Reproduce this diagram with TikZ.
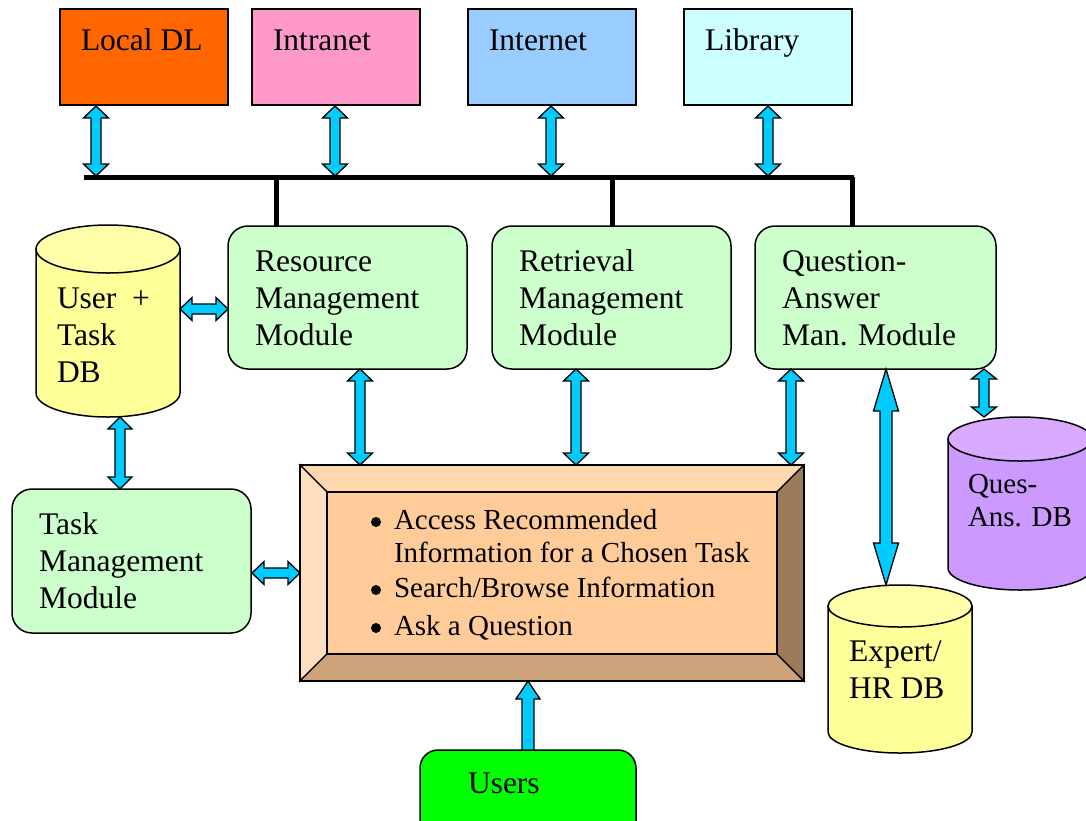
\documentclass[tikz,border=0pt]{standalone}
\usepackage{fontspec}
\setmainfont{Liberation Serif}
\usetikzlibrary{calc}
\definecolor{arrowblue}{HTML}{00CCFF}
\definecolor{cLocal}{HTML}{FF6600}
\definecolor{cIntra}{HTML}{FF99CC}
\definecolor{cInter}{HTML}{99CCFF}
\definecolor{cLib}{HTML}{CCFFFF}
\definecolor{modgreen}{HTML}{CCFFCC}
\definecolor{dbyellow}{HTML}{FFFF99}
\definecolor{dbyellowtop}{HTML}{FFFFAA}
\definecolor{dbpurple}{HTML}{CC99FF}
\definecolor{dbpurpletop}{HTML}{D9AAFF}
\definecolor{uiin}{HTML}{FFCC99}
\definecolor{uitop}{HTML}{FFD7AE}
\definecolor{uileft}{HTML}{FFDEC0}
\definecolor{uibot}{HTML}{CCA37A}
\definecolor{uiright}{HTML}{9C7A5A}
\definecolor{usersgreen}{HTML}{00FF00}
\tikzset{
  box/.style={draw=black, line width=1.5pt, anchor=north west, inner sep=0pt, outer sep=0pt},
  modbox/.style={box, fill=modgreen, rounded corners=20pt},
  lbl/.style={anchor=base west, inner sep=0pt, outer sep=0pt, font=\fontsize{31.5}{37}\selectfont, align=left},
  lblsmall/.style={lbl, font=\fontsize{29}{33}\selectfont},
  bulletdot/.style={circle, fill=black, inner sep=0pt, minimum size=10pt},
  fat/.style={draw=black, fill=arrowblue, line width=1.3pt, line join=miter},
  bus/.style={draw=black, line width=5pt},
  cylsty/.style={draw=black, line width=1.5pt},
}
% double fat arrow: A, B, shaft half width, head half width, head length
\newcommand{\dblarr}[5]{%
  \draw[fat] (#1) -- ($(#1)!#5!(#2)!#4!90:(#2)$) -- ($(#1)!#5!(#2)!#3!90:(#2)$)
   -- ($(#2)!#5!(#1)!#3!-90:(#1)$) -- ($(#2)!#5!(#1)!#4!-90:(#1)$) -- (#2)
   -- ($(#2)!#5!(#1)!#4!90:(#1)$) -- ($(#2)!#5!(#1)!#3!90:(#1)$)
   -- ($(#1)!#5!(#2)!#3!-90:(#2)$) -- ($(#1)!#5!(#2)!#4!-90:(#2)$) -- cycle;}
% single fat arrow: tail A, tip B
\newcommand{\sglarr}[5]{%
  \draw[fat] ($(#1)!#3!90:(#2)$) -- ($(#2)!#5!(#1)!#3!-90:(#1)$) -- ($(#2)!#5!(#1)!#4!-90:(#1)$)
   -- (#2) -- ($(#2)!#5!(#1)!#4!90:(#1)$) -- ($(#2)!#5!(#1)!#3!90:(#1)$)
   -- ($(#1)!#3!-90:(#2)$) -- cycle;}
% cylinder: x0, x1, top centre y, bottom centre y, ry, fill body, fill top
\newcommand{\cyl}[7]{%
  \pgfmathsetmacro{\rx}{(#2-#1)/2}
  \draw[cylsty, fill=#6] (#1,#3) -- (#1,#4) arc[start angle=180, end angle=360, x radius=\rx, y radius=-#5] -- (#2,#3) -- cycle;
  \draw[cylsty, fill=#7] ({(#1+#2)/2},#3) ellipse[x radius=\rx, y radius=#5];}
\begin{document}
\begin{tikzpicture}[x=1pt, y=-1pt]
\useasboundingbox (0,0) rectangle (1086,820);
\fill[white] (0,0) rectangle (1086,820);

% top sources
\node[box, fill=cLocal, minimum width=168, minimum height=96] (local) at (60,9) {};
\node[box, fill=cIntra, minimum width=168, minimum height=96] (intra) at (252,9) {};
\node[box, fill=cInter, minimum width=168, minimum height=96] (inter) at (468,9) {};
\node[box, fill=cLib, minimum width=168, minimum height=96] (lib) at (684,9) {};
\node[lbl] (localT) at (81,50) {Local DL};
\node[lbl] (intraT) at (273,50) {Intranet};
\node[lbl] (interT) at (489,50) {Internet};
\node[lbl] (libT) at (705,50) {Library};

% bus
\coordinate (busL) at (84,177);
\coordinate (busR) at (854,177);
\draw[bus] (busL) -- (busR);

% modules
\node[modbox, minimum width=239, minimum height=143] (res) at (228,226) {};
\node[modbox, minimum width=239, minimum height=143] (ret) at (492,226) {};
\node[modbox, minimum width=241, minimum height=143] (qa) at (755,226) {};
\node[lbl] (resT) at (255,345) {Resource\\Management\\Module};
\node[lbl] (retT) at (519,345) {Retrieval\\Management\\Module};
\node[lbl] (qaT) at (782,345) {Question-\\Answer\\Man. Module};

\coordinate (d1) at (276,177);
\coordinate (d2) at (612,177);
\coordinate (d3) at (852,177);
\draw[bus] (d1) -- (d1 |- res.north);
\draw[bus] (d2) -- (d2 |- ret.north);
\draw[bus] (d3) -- (d3 |- qa.north);

% top arrows
\coordinate (a1t) at (96,106);  \coordinate (a1b) at (96,176);
\coordinate (a2t) at (335,106); \coordinate (a2b) at (335,176);
\coordinate (a3t) at (551,106); \coordinate (a3b) at (551,176);
\coordinate (a4t) at (768,106); \coordinate (a4b) at (768,176);
\dblarr{a1t}{a1b}{5pt}{12.5pt}{12pt}
\dblarr{a2t}{a2b}{5pt}{12.5pt}{12pt}
\dblarr{a3t}{a3b}{5pt}{12.5pt}{12pt}
\dblarr{a4t}{a4b}{5pt}{12.5pt}{12pt}

% User + Task DB
\cyl{36}{180}{249}{393}{24}{dbyellow}{dbyellowtop}
\node[lbl] (userdbT) at (57,382) {User\ \ +\\Task\\DB};
\coordinate (udbR) at (180,309);
\coordinate (udbB) at (120,417);

% Task management
\node[modbox, minimum width=239, minimum height=144] (task) at (12,489) {};
\node[lbl] (taskT) at (39,608) {Task\\Management\\Module};

% user interface bevel box
\node[box, draw=none, minimum width=504, minimum height=216] (ui) at (300,465) {};
\coordinate (iNW) at ($(ui.north west)+(27,27)$);
\coordinate (iNE) at ($(ui.north east)+(-27,27)$);
\coordinate (iSW) at ($(ui.south west)+(27,-27)$);
\coordinate (iSE) at ($(ui.south east)+(-27,-27)$);
\begin{scope}[line width=1.2pt, line join=miter]
\draw[fill=uitop] (ui.north west) -- (ui.north east) -- (iNE) -- (iNW) -- cycle;
\draw[fill=uileft] (ui.north west) -- (iNW) -- (iSW) -- (ui.south west) -- cycle;
\draw[fill=uibot] (ui.south west) -- (iSW) -- (iSE) -- (ui.south east) -- cycle;
\draw[fill=uiright] (ui.north east) -- (ui.south east) -- (iSE) -- (iNE) -- cycle;
\draw[fill=uiin] (iNW) rectangle (iSE);
\draw (ui.north west) rectangle (ui.south east);
\end{scope}
\node[bulletdot] (b1) at (376,522) {};
\node[bulletdot] (b2) at (376,590) {};
\node[bulletdot] (b3) at (376,628) {};
\node[lblsmall] (uiT1) at (394,562) {Access Recommended\\Information for a Chosen Task};
\node[lblsmall] (uiT2) at (394,597) {Search/Browse Information};
\node[lblsmall] (uiT3) at (394,635) {Ask a Question};

% Ques-Ans DB
\cyl{948}{1092}{439}{568}{22}{dbpurple}{dbpurpletop}
\node[lblsmall] (qadbT) at (968,526) {Ques-\\Ans. DB};

% Expert/HR DB
\cyl{828}{972}{606}{732}{21}{dbyellow}{dbyellowtop}
\node[lbl] (expT) at (849,698) {Expert/\\HR DB};

% Users
\node[box, fill=usersgreen, rounded corners=18pt, minimum width=216, minimum height=110] (users) at (420,750) {};
\node[lbl] (usersT) at (468,793) {Users};

% arrows between modules and boxes
\coordinate (r1) at (360,369); \coordinate (r2) at (360,465);
\coordinate (t1) at (576,369); \coordinate (t2) at (576,465);
\coordinate (q1) at (791,369); \coordinate (q2) at (791,465);
\coordinate (e1) at (886,369); \coordinate (e2) at (886,585);
\coordinate (s1) at (984,369); \coordinate (s2) at (984,417);
\coordinate (tk) at (252,573); \coordinate (uiL) at (300,573);
\coordinate (u1) at (528,750); \coordinate (u2) at (528,681);
\dblarr{udbR}{res.west |- udbR}{5pt}{11.5pt}{12pt}
\dblarr{udbB}{udbB |- task.north}{5pt}{12pt}{12pt}
\dblarr{tk}{uiL}{5pt}{11.5pt}{12pt}
\dblarr{r1}{r2}{5pt}{12.5pt}{12pt}
\dblarr{t1}{t2}{5pt}{12.5pt}{12pt}
\dblarr{q1}{q2}{5pt}{12.5pt}{12pt}
\dblarr{e1}{e2}{6pt}{12.5pt}{42pt}
\dblarr{s1}{s2}{5pt}{12.5pt}{10pt}
\sglarr{u1}{u2}{6pt}{12pt}{18pt}
\end{tikzpicture}
\end{document}
